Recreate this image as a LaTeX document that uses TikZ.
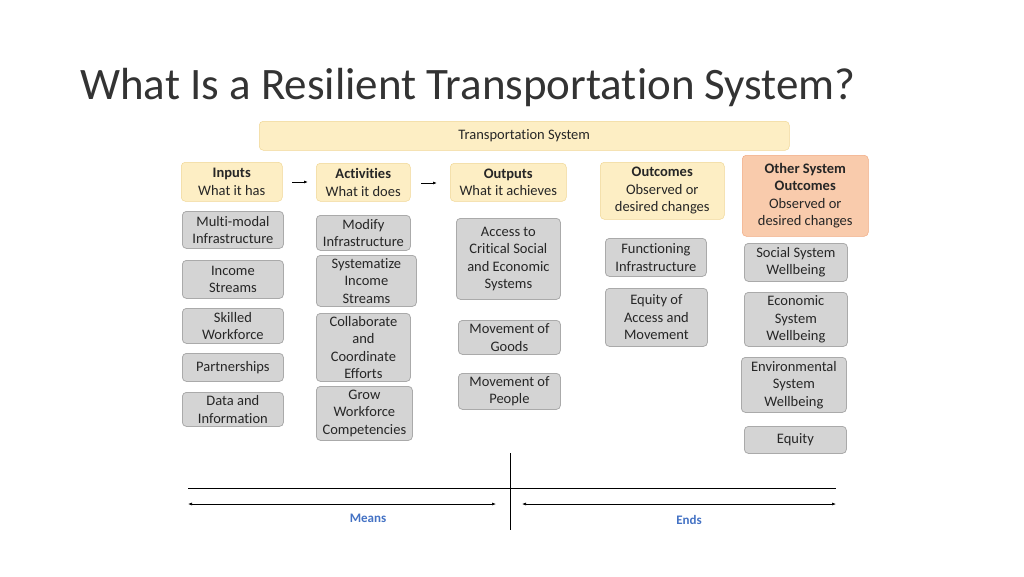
\documentclass[tikz,border=0pt]{standalone}
\usepackage{fontspec}
\setmainfont{Carlito}[Ligatures=NoCommon]
\usetikzlibrary{arrows.meta}
\definecolor{yel}{RGB}{253,238,196}
\definecolor{yelb}{RGB}{240,215,150}
\definecolor{org}{RGB}{249,203,172}
\definecolor{orgb}{RGB}{240,170,130}
\definecolor{gry}{RGB}{212,212,212}
\definecolor{gryb}{RGB}{170,170,170}
\definecolor{blu}{RGB}{68,114,196}
\tikzset{
 bx/.style={rounded corners=4pt,align=center,font=\fontsize{14.5}{17.5}\selectfont,inner sep=0pt,text=black!85},
 hd/.style={bx,fill=yel,draw=yelb,line width=0.5pt},
 gb/.style={bx,fill=gry,draw=gryb,line width=0.8pt},
 ar/.style={-{Latex[length=4pt]},line width=0.8pt},
}
\newcommand{\B}[6]{\node[#1,minimum width=#4pt-#2pt,minimum height=#5pt-#3pt,anchor=north west] (#6) at (#2pt,-#3pt)}
\begin{document}
\begin{tikzpicture}[x=1pt,y=1pt]
\useasboundingbox (0,0) rectangle (1024,-576);
\node[anchor=base west,font=\fontsize{45}{50}\selectfont,text=black!80,inner sep=0pt] (title) at (80,-99) {What Is a Resilient Transportation System?};
\B{hd}{259}{121}{789}{150}{ts} {Transportation System};
\B{hd}{181}{162}{282}{201}{inp} {\textbf{Inputs}\\What it has};
\B{hd}{316}{163}{410}{201}{act} {\textbf{Activities}\\What it does};
\B{hd}{450}{163}{566}{201}{out} {\textbf{Outputs}\\What it achieves};
\B{hd}{600}{162}{724}{219}{oc} {\textbf{Outcomes}\\Observed or\\desired changes};
\B{bx,fill=org,draw=orgb,line width=0.5pt}{742}{155}{868}{236}{oth} {\textbf{Other System}\\\textbf{Outcomes}\\Observed or\\desired changes};
\draw[ar] (292,-182) coordinate (a1) -- (308,-182) coordinate (a2);
\draw[ar] (421,-183) coordinate (a3) -- (437,-183) coordinate (a4);
\B{gb}{182}{211}{283}{248}{i1} {Multi-modal\\Infrastructure};
\B{gb}{182}{260}{283}{298}{i2} {Income\\Streams};
\B{gb}{182}{308}{283}{343}{i3} {Skilled\\Workforce};
\B{gb}{182}{353}{283}{381}{i4} {Partnerships};
\B{gb}{182}{392}{283}{426}{i5} {Data and\\Information};
\B{gb}{316}{215}{410}{250}{c1} {Modify\\Infrastructure};
\B{gb}{316}{255}{416}{306}{c2} {Systematize\\Income\\Streams};
\B{gb}{316}{313}{410}{381}{c3} {Collaborate\\and\\Coordinate\\Efforts};
\B{gb}{316}{386}{412}{440}{c4} {Grow\\Workforce\\Competencies};
\B{gb}{456}{218}{560}{299}{o1} {Access to\\Critical Social\\and Economic\\Systems};
\B{gb}{458}{320}{560}{354}{o2} {Movement of\\Goods};
\B{gb}{458}{373}{560}{409}{o3} {Movement of\\People};
\B{gb}{605}{238}{706}{276}{u1} {Functioning\\Infrastructure};
\B{gb}{605}{288}{707}{346}{u2} {Equity of\\Access and\\Movement};
\B{gb}{744}{243}{847}{281}{s1} {Social System\\Wellbeing};
\B{gb}{744}{292}{847}{346}{s2} {Economic\\System\\Wellbeing};
\B{gb}{741}{357}{846}{412}{s3} {Environmental\\System\\Wellbeing};
\B{gb}{744}{426}{846}{453}{s4} {Equity};
\draw[line width=1pt] (510,-453) coordinate (v1) -- (510,-530) coordinate (v2);
\draw[line width=1pt] (188,-488) coordinate (h1) -- (836,-488) coordinate (h2);
\draw[{Latex[length=4pt]}-{Latex[length=4pt]},line width=0.6pt] (188,-504) coordinate (m1) -- (496,-504) coordinate (m2);
\draw[{Latex[length=4pt]}-{Latex[length=4pt]},line width=0.6pt] (522,-504) coordinate (e1) -- (836,-504) coordinate (e2);
\node[font=\fontsize{13}{15}\selectfont\bfseries,text=blu] (means) at (368,-518) {Means};
\node[font=\fontsize{13}{15}\selectfont\bfseries,text=blu] (ends) at (689,-520) {Ends};
\end{tikzpicture}
\end{document}
